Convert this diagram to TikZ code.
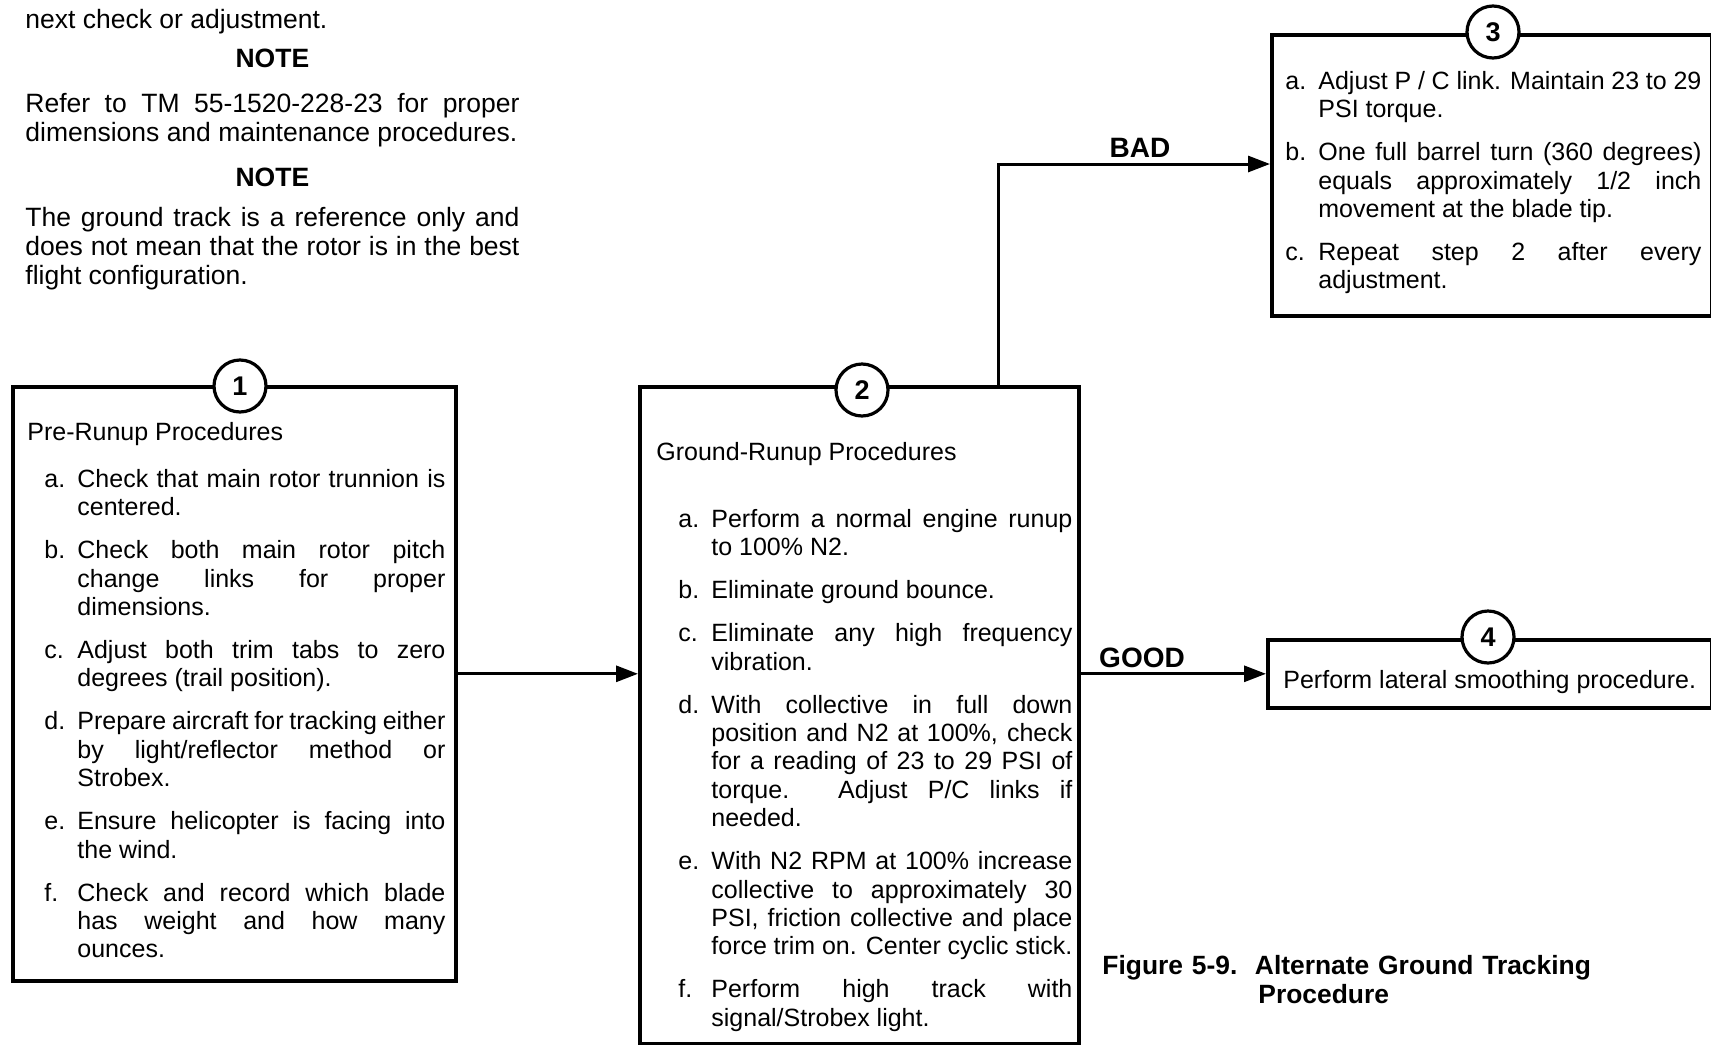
\documentclass[tikz,border=0pt]{standalone}
\usepackage{fontspec}
\setmainfont{Liberation Sans}
\usetikzlibrary{arrows.meta}
\hyphenpenalty=10000

\newcommand{\stepitem}[2]{\noindent\hangindent=16.5pt\hangafter=1\makebox[16.5pt][l]{\strut#1}#2\par\vspace{7.3pt}}

\begin{document}
\begin{tikzpicture}[x=0.5pt,y=-0.5pt]
\tikzstyle{procbox} = [draw,line width=1.8pt,inner sep=0pt,anchor=north west]
\tikzstyle{numcirc} = [draw,circle,fill=white,line width=1.6pt,minimum size=26pt,inner sep=0pt,font=\fontsize{13.5}{13.5}\selectfont\bfseries]
\tikzstyle{body} = [anchor=north west,inner sep=0pt,align=justify,font=\fontsize{12.5}{14.2}\selectfont]
\tikzstyle{verdict} = [anchor=base,inner sep=0pt,font=\fontsize{14}{14}\selectfont\bfseries]
\tikzstyle{flow} = [line width=1.5pt,-{Triangle[length=11pt,width=8pt]}]
\useasboundingbox (0,0) rectangle (1711,1044);

% notes above the chart
\node[body,text width=247pt,font=\fontsize{13.25}{14.5}\selectfont] (notes) at (25,7.7) {%
\noindent\strut next check or adjustment.\par\vspace{5pt}
{\centering\bfseries NOTE\par}\vspace{8pt}
\noindent Refer to TM 55-1520-228-23 for proper\linebreak dimensions and maintenance procedures.\par\vspace{8.2pt}
{\centering\bfseries NOTE\par}\vspace{5.5pt}
\noindent The ground track is a reference only and\linebreak does not mean that the rotor is in the best\linebreak flight configuration.};

% the four steps
\node[procbox,minimum width=221.5pt,minimum height=297pt] (box1) at (11,385) {};
\node[procbox,minimum width=219.5pt,minimum height=328.5pt] (box2) at (638,385) {};
\node[procbox,minimum width=220pt,minimum height=140.5pt] (box3) at (1270,33) {};
\node[procbox,minimum width=222pt,minimum height=34pt] (box4) at (1266,638) {};

\node[body,text width=209pt] (text1) at (27,420) {%
\noindent\strut Pre-Runup Procedures\par\vspace{9.3pt}\leftskip=8.5pt
\stepitem{a.}{Check that main rotor trunnion is\linebreak centered.}
\stepitem{b.}{Check both main rotor pitch\linebreak change links for proper\linebreak dimensions.}
\stepitem{c.}{Adjust both trim tabs to zero\linebreak degrees (trail position).}
\stepitem{d.}{Prepare aircraft for tracking either\linebreak by light/reflector method or\linebreak Strobex.}
\stepitem{e.}{Ensure helicopter is facing into\linebreak the wind.}
\stepitem{f.}{Check and record which blade\linebreak has weight and how many\linebreak ounces.}};

\node[body,text width=208pt] (text2) at (656,440.1) {%
\noindent\strut Ground-Runup Procedures\par\vspace{19.3pt}\leftskip=11pt
\stepitem{a.}{Perform a normal engine runup\linebreak to 100\% N2.}
\stepitem{b.}{Eliminate ground bounce.}
\stepitem{c.}{Eliminate any high frequency\linebreak vibration.}
\stepitem{d.}{With collective in full down\linebreak position and N2 at 100\%, check\linebreak for a reading of 23 to 29 PSI of\linebreak torque. Adjust P/C links if\linebreak needed.}
\stepitem{e.}{With N2 RPM at 100\% increase\linebreak collective to approximately 30\linebreak PSI, friction collective and place\linebreak force trim on. Center cyclic stick.}
\stepitem{f.}{Perform high track with\linebreak signal/Strobex light.}};

\node[body,text width=208pt] (text3) at (1285,69.1) {%
\stepitem{a.}{Adjust P / C link. Maintain 23 to 29\linebreak PSI torque.}
\stepitem{b.}{One full barrel turn (360 degrees)\linebreak equals approximately 1/2 inch\linebreak movement at the blade tip.}
\stepitem{c.}{Repeat step 2 after every\linebreak adjustment.}};

\node[anchor=base west,inner sep=0pt,font=\fontsize{12.5}{14.2}\selectfont] (text4) at (1283,688) {Perform lateral smoothing procedure.};

\node[numcirc] (num1) at (240,386) {1};
\node[numcirc] (num2) at (862,390) {2};
\node[numcirc] (num3) at (1493,32) {3};
\node[numcirc] (num4) at (1488,637) {4};

% connectors
\coordinate (turn) at (998,164);
\draw[flow] (box1.east |- box4.west) -- (box2.west |- box4.west);
\draw[flow] (box2.east |- box4.west) -- (box4.west);
\draw[flow] (box2.north -| turn) -- (turn) -- (box3.west |- turn);
\node[verdict] (bad) at (1140,157) {BAD};
\node[verdict] (good) at (1142,667) {GOOD};

% caption
\node[anchor=north west,inner sep=0pt,text width=260pt,align=left,font=\fontsize{13.2}{14.5}\selectfont\bfseries] (caption) at (1102,953.7) {%
\noindent\strut Figure 5-9.\ \ Alternate Ground Tracking\par
\noindent\hspace*{78pt}Procedure};
\end{tikzpicture}
\end{document}
